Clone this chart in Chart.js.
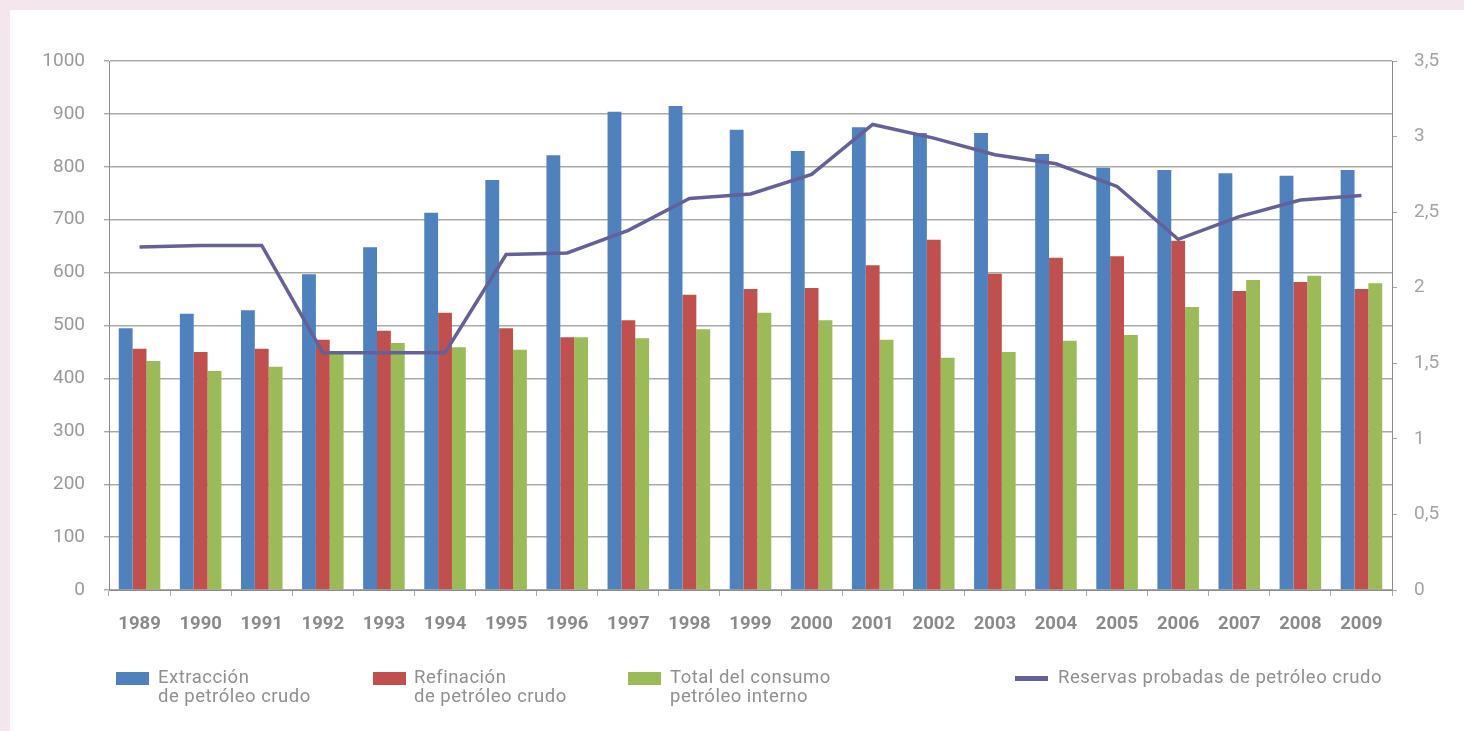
<!DOCTYPE html>
<html>
<head>
<meta charset="utf-8">
<script src="https://cdn.jsdelivr.net/npm/chart.js@4"></script>
<style>
  html, body { margin: 0; padding: 0; }
  body { background: #f3e7ed; width: 1464px; height: 731px; overflow: hidden; position: relative; font-family: Roboto, "DejaVu Sans", sans-serif; }
  #panel { position: absolute; left: 10px; top: 10px; width: 1454px; height: 721px; background: #fff; }
  #myChart { position: absolute; left: 0; top: 0; }
  .sw { position: absolute; }
  .lbl { position: absolute; color: #8f8f8f; font-size: 18.5px; line-height: 19px; letter-spacing: 0.5px; }
</style>
</head>
<body>
<div id="panel">
  <canvas id="myChart" width="1454" height="721"></canvas>
  <div class="sw" style="left:106px; top:662px; width:33px; height:13px; background:#4f81bd"></div>
  <div class="lbl" style="left:148px; top:658px">Extracción<br>de petróleo crudo</div>
  <div class="sw" style="left:363px; top:662px; width:33px; height:13px; background:#c0504d"></div>
  <div class="lbl" style="left:404px; top:658px">Refinación<br>de petróleo crudo</div>
  <div class="sw" style="left:618px; top:662px; width:33px; height:13px; background:#9bbb59"></div>
  <div class="lbl" style="left:660px; top:658px">Total del consumo<br>petróleo interno</div>
  <div class="sw" style="left:1005px; top:666px; width:33px; height:5px; background:#646099"></div>
  <div class="lbl" style="left:1048px; top:658px">Reservas probadas de petróleo crudo</div>
</div>
<script>
let years = ['1989', '1990', '1991', '1992', '1993', '1994', '1995', '1996', '1997', '1998', '1999',
             '2000', '2001', '2002', '2003', '2004', '2005', '2006', '2007', '2008', '2009'];
let extraccion = [495, 522, 529, 597, 648, 713, 775, 822, 904, 915, 870, 830, 875, 864, 864, 824, 798, 794, 788, 783, 794];
let refinacion = [456, 450, 456, 473, 490, 524, 495, 478, 510, 558, 569, 571, 614, 662, 598, 628, 631, 660, 565, 582, 569];
let consumo = [433, 414, 422, 446, 467, 459, 454, 478, 476, 493, 524, 510, 473, 439, 450, 471, 482, 535, 586, 594, 580];
let reservas = [2.27, 2.28, 2.28, 1.57, 1.57, 1.57, 2.22, 2.23, 2.38, 2.59, 2.62, 2.75, 3.08, 2.99, 2.88, 2.82, 2.67, 2.32, 2.47, 2.58, 2.61];

let gridGray = '#a9a9a9';
let tickFont = { family: 'Roboto', size: 19 };

let ctx = document.getElementById("myChart").getContext('2d');

let chart = new Chart(ctx, {
    type: 'bar',
    data: {
        labels: years,
        datasets: [
            {
                type: 'line',
                label: 'Reservas probadas de petróleo crudo',
                data: reservas,
                yAxisID: 'y1',
                borderColor: '#646099',
                borderWidth: 3.5,
                pointRadius: 0,
                tension: 0,
                order: 0
            },
            { label: 'Extracción de petróleo crudo', data: extraccion, backgroundColor: '#4f81bd', order: 1 },
            { label: 'Refinación de petróleo crudo', data: refinacion, backgroundColor: '#c0504d', order: 1 },
            { label: 'Total del consumo petróleo interno', data: consumo, backgroundColor: '#9bbb59', order: 1 }
        ]
    },
    options: {
        responsive: false,
        animation: false,
        layout: { padding: { top: 51, left: 0, right: 0, bottom: 0 } },
        datasets: {
            bar: { categoryPercentage: 0.68, barPercentage: 1.0 }
        },
        plugins: {
            legend: { display: false },
            tooltip: { enabled: false }
        },
        scales: {
            x: {
                grid: { offset: true, drawOnChartArea: false, color: gridGray, tickLength: 6 },
                border: { color: '#8c8c8c' },
                ticks: {
                    color: '#8a8a8a',
                    padding: 17,
                    font: { family: 'Roboto', size: 18.5, weight: 'bold' }
                },
                afterFit: function (scale) { scale.height = 141; }
            },
            y: {
                position: 'left',
                min: 0,
                max: 1000,
                ticks: {
                    stepSize: 100,
                    color: '#999999',
                    padding: 19,
                    font: tickFont,
                    callback: function (v) { return String(v); }
                },
                grid: { color: gridGray, lineWidth: 1.4, tickLength: 5 },
                border: { color: '#8c8c8c' },
                afterFit: function (scale) { scale.width = 99; }
            },
            y1: {
                position: 'right',
                min: 0,
                max: 3.5,
                ticks: {
                    stepSize: 0.5,
                    color: '#a3a3a3',
                    padding: 17,
                    font: tickFont,
                    callback: function (v) { return String(v).replace('.', ','); }
                },
                grid: { drawOnChartArea: false, color: gridGray, tickLength: 5 },
                border: { color: '#8c8c8c' },
                afterFit: function (scale) { scale.width = 72; }
            }
        }
    }
});
</script>
</body>
</html>
